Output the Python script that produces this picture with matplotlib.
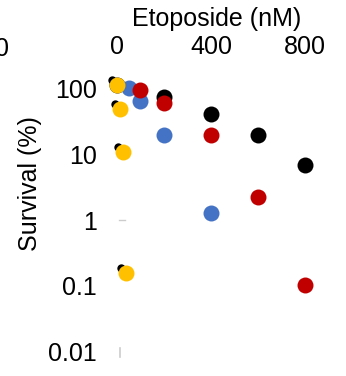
import matplotlib.pyplot as plt
import matplotlib.transforms as mtransforms
import numpy as np

# doses (nM) and survival (%)
black_x = [0, 200, 400, 600, 800]
black_y = [110, 73, 40, 19.5, 6.8]
blue_x = [50, 100, 200, 400]
blue_y = [100, 63, 19.5, 1.28]
red_x = [100, 200, 400, 600, 800]
red_y = [93, 59, 19.5, 2.25, 0.104]
yellow_x = [0, 12.5, 25, 40]
yellow_y = [111, 48, 10.7, 0.16]

xticks = [0, 400, 800]
yticks = [100, 10, 1, 0.1, 0.01]
ylabels = ["100", "10", "1", "0.1", "0.01"]

plt.rcParams['font.family'] = ['Liberation Sans', 'DejaVu Sans']
fs = 18

fig = plt.figure(figsize=(3.46, 3.76), dpi=100)
ax = fig.add_axes([100/346, 6/376, 230/346, 300/376])
ax.set_yscale('log')
ax.set_xlim(-72, 906)
ax.set_ylim(10**-2.273, 10**2.273)

ms = 11.5
ax.plot(black_x, black_y, 'o', color='black', ms=ms, mec='none', zorder=2)
ax.plot(blue_x, blue_y, 'o', color='#4472C4', ms=ms, mec='none', zorder=3)
ax.plot(red_x, red_y, 'o', color='#C00000', ms=ms, mec='none', zorder=4)
# little black tips peeking out behind the yellow points
shift = mtransforms.offset_copy(ax.transData, fig=fig, x=-3.5, y=3.5, units='points')
ax.plot(yellow_x, yellow_y, 'o', color='black', ms=6, mec='none', zorder=4.5,
        transform=shift)
ax.plot(yellow_x, yellow_y, 'o', color='#FFC000', ms=ms, mec='none', zorder=5)

# faint grey remnants
ax.plot([10, 35], [1, 1], color='#cccccc', lw=1, zorder=1)
ax.plot([15, 15], [0.0085, 0.0115], color='#cccccc', lw=1.2, zorder=1)

for s in ax.spines.values():
    s.set_visible(False)

ax.xaxis.tick_top()
ax.set_xticks(xticks)
ax.set_xticklabels([str(t) for t in xticks])
ax.set_yticks(yticks)
ax.set_yticklabels(ylabels)
ax.minorticks_off()
ax.tick_params(axis='both', length=0, labelsize=fs)
ax.tick_params(axis='x', pad=8)
ax.tick_params(axis='y', pad=2)

fig.text(217/346, 1 - 19/376, 'Etoposide (nM)', fontsize=fs, ha='center', va='center')
fig.text(30/346, 1 - 184/376, 'Survival (%)', fontsize=fs, ha='center', va='center',
         rotation=90)
fig.text(-0.015, 1 - 49/376, '0', fontsize=fs, ha='left', va='center')

fig.savefig('out.png', dpi=100)
